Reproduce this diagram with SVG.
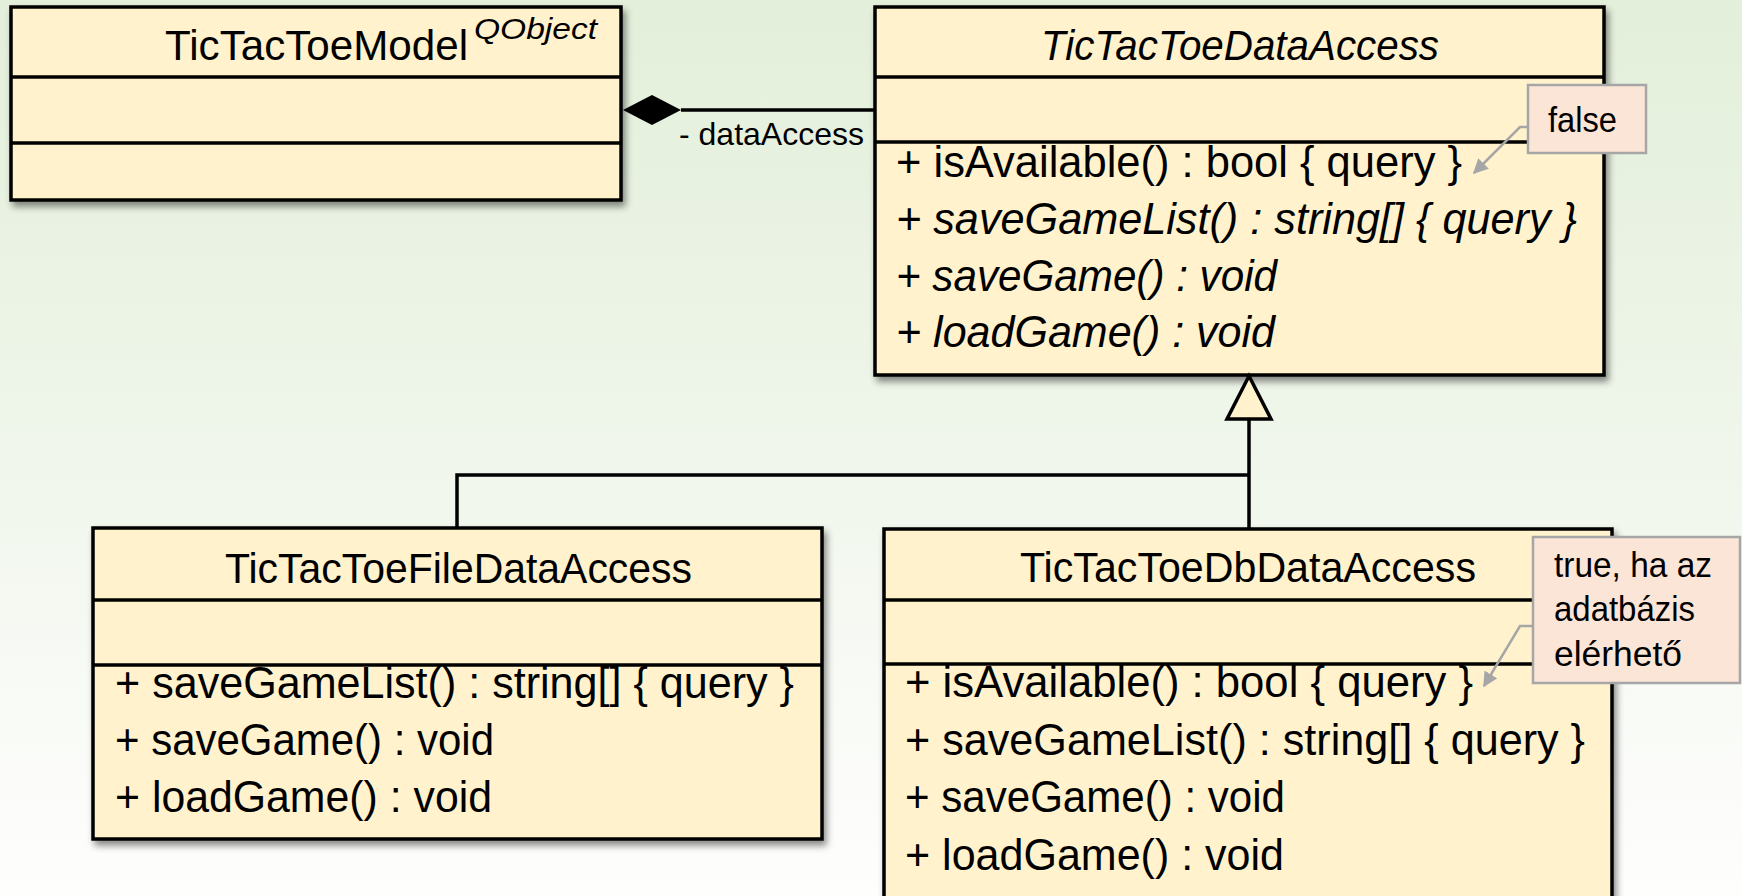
<svg xmlns="http://www.w3.org/2000/svg" width="1742" height="896" viewBox="0 0 1742 896">
  <defs>
    <linearGradient id="bg" x1="0" y1="0" x2="0" y2="1">
      <stop offset="0" stop-color="#E3EFDA"/>
      <stop offset="0.45" stop-color="#EEF5E9"/>
      <stop offset="0.8" stop-color="#F9FBF7"/>
      <stop offset="1" stop-color="#FEFEFD"/>
    </linearGradient>
    <filter id="shadow" x="-5%" y="-5%" width="115%" height="120%">
      <feDropShadow dx="3" dy="5" stdDeviation="3.5" flood-color="#000" flood-opacity="0.45"/>
    </filter>
    <marker id="noteArrow" viewBox="0 0 10 10" refX="9" refY="5" markerWidth="6" markerHeight="6" orient="auto" markerUnits="strokeWidth">
      <path d="M0,0 L10,5 L0,10 z" fill="#A6A6A6"/>
    </marker>
    <style>
      .box { fill: #FFF2CC; stroke: #000; stroke-width: 3.5; }
      .div { stroke: #000; stroke-width: 3.5; }
      .txt { font-family: "Liberation Sans", Arial, sans-serif; fill: #000; }
      .title { font-size: 43px; }
      .member { font-size: 44px; }
      .it { font-style: italic; }
      .note { fill: #FBE5D6; stroke: #A6A6A6; stroke-width: 2.5; }
      .notetxt { font-size: 35px; }
      .conn { stroke: #000; stroke-width: 3.5; fill: none; }
      .noteline { stroke: #A6A6A6; stroke-width: 2.5; fill: none; }
    </style>
  </defs>

  <rect x="0" y="0" width="1742" height="896" fill="url(#bg)"/>

  <g id="TicTacToeModel">
    <rect class="box" x="11" y="7" width="610" height="193" filter="url(#shadow)"/>
    <line class="div" x1="11" y1="77" x2="621" y2="77"/>
    <line class="div" x1="11" y1="143" x2="621" y2="143"/>
    <text class="txt title" x="165" y="60" textLength="303" lengthAdjust="spacingAndGlyphs">TicTacToeModel</text>
    <text class="txt it" x="474" y="39" font-size="30" textLength="123" lengthAdjust="spacingAndGlyphs">QObject</text>
  </g>

  <g id="TicTacToeDataAccess">
    <rect class="box" x="875" y="7" width="729" height="368" filter="url(#shadow)"/>
    <line class="div" x1="875" y1="77" x2="1604" y2="77"/>
    <line class="div" x1="875" y1="142" x2="1604" y2="142"/>
    <text class="txt title it" x="1041" y="60" textLength="398" lengthAdjust="spacingAndGlyphs">TicTacToeDataAccess</text>
    <text class="txt member" x="896" y="177" textLength="566" lengthAdjust="spacingAndGlyphs">+ isAvailable() : bool { query }</text>
    <text class="txt member it" x="896" y="234" textLength="681" lengthAdjust="spacingAndGlyphs">+ saveGameList() : string[] { query }</text>
    <text class="txt member it" x="896" y="291" textLength="381" lengthAdjust="spacingAndGlyphs">+ saveGame() : void</text>
    <text class="txt member it" x="896" y="347" textLength="379" lengthAdjust="spacingAndGlyphs">+ loadGame() : void</text>
  </g>

  <g id="TicTacToeFileDataAccess">
    <rect class="box" x="93" y="528" width="729" height="311" filter="url(#shadow)"/>
    <line class="div" x1="93" y1="600" x2="822" y2="600"/>
    <line class="div" x1="93" y1="665" x2="822" y2="665"/>
    <text class="txt title" x="225" y="583" textLength="467" lengthAdjust="spacingAndGlyphs">TicTacToeFileDataAccess</text>
    <text class="txt member" x="115" y="698" textLength="679" lengthAdjust="spacingAndGlyphs">+ saveGameList() : string[] { query }</text>
    <text class="txt member" x="115" y="755" textLength="379" lengthAdjust="spacingAndGlyphs">+ saveGame() : void</text>
    <text class="txt member" x="115" y="812" textLength="377" lengthAdjust="spacingAndGlyphs">+ loadGame() : void</text>
  </g>

  <g id="TicTacToeDbDataAccess">
    <rect class="box" x="884" y="529" width="728" height="380" filter="url(#shadow)"/>
    <line class="div" x1="884" y1="600" x2="1612" y2="600"/>
    <line class="div" x1="884" y1="664" x2="1612" y2="664"/>
    <text class="txt title" x="1020" y="582" textLength="456" lengthAdjust="spacingAndGlyphs">TicTacToeDbDataAccess</text>
    <text class="txt member" x="905" y="697" textLength="568" lengthAdjust="spacingAndGlyphs">+ isAvailable() : bool { query }</text>
    <text class="txt member" x="905" y="755" textLength="680" lengthAdjust="spacingAndGlyphs">+ saveGameList() : string[] { query }</text>
    <text class="txt member" x="905" y="812" textLength="380" lengthAdjust="spacingAndGlyphs">+ saveGame() : void</text>
    <text class="txt member" x="905" y="870" textLength="379" lengthAdjust="spacingAndGlyphs">+ loadGame() : void</text>
  </g>

  <g id="connectors">
    <line class="conn" x1="681" y1="110" x2="875" y2="110"/>
    <polygon points="623,110 652,95 681,110 652,125" fill="#000"/>
    <text class="txt" x="679" y="145" font-size="32" textLength="185" lengthAdjust="spacingAndGlyphs">- dataAccess</text>
    <polyline class="conn" points="457,528 457,475 1249,475"/>
    <line class="conn" x1="1249" y1="529" x2="1249" y2="419"/>
    <polygon points="1249,376 1271,419 1227,419" fill="#FFF2CC" stroke="#000" stroke-width="3.5" stroke-linejoin="miter"/>
    <polyline class="noteline" points="1528,127 1520,127 1474,173" marker-end="url(#noteArrow)"/>
    <polyline class="noteline" points="1533,626 1520,626 1484,686" marker-end="url(#noteArrow)"/>
  </g>

  <g id="note-false">
    <rect class="note" x="1528" y="85" width="118" height="68"/>
    <text class="txt notetxt" x="1548" y="132" textLength="69" lengthAdjust="spacingAndGlyphs">false</text>
  </g>

  <g id="note-true">
    <rect class="note" x="1533" y="537" width="207" height="146"/>
    <text class="txt notetxt" x="1554" y="577" textLength="158" lengthAdjust="spacingAndGlyphs">true, ha az</text>
    <text class="txt notetxt" x="1554" y="621" textLength="141" lengthAdjust="spacingAndGlyphs">adatbázis</text>
    <text class="txt notetxt" x="1554" y="666" textLength="128" lengthAdjust="spacingAndGlyphs">elérhető</text>
  </g>
</svg>
